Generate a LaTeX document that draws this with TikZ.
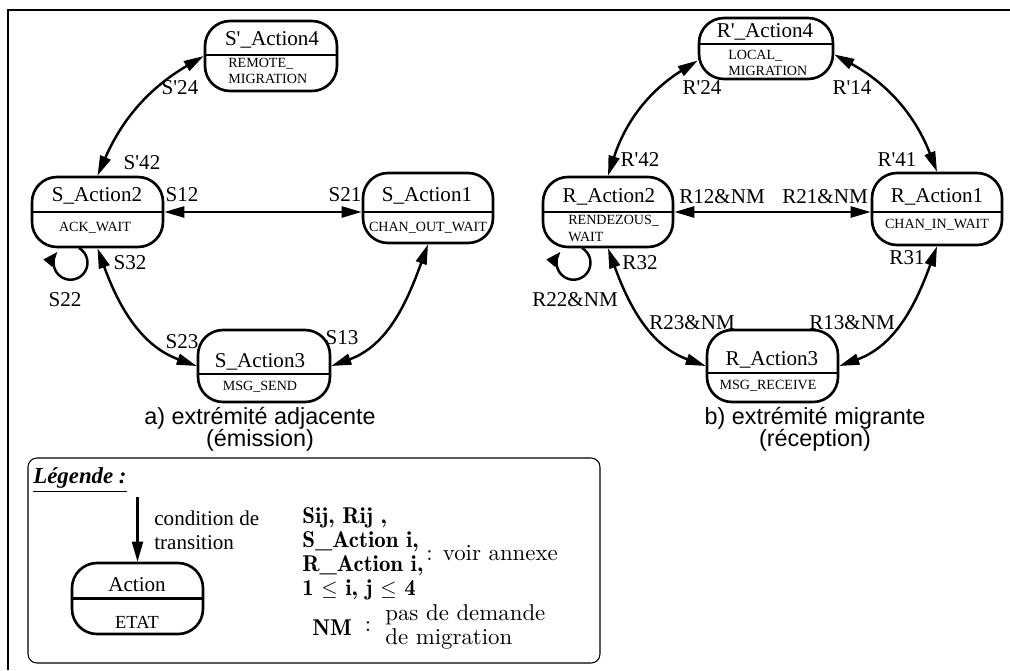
\documentclass[tikz,border=0pt]{standalone}
\usepackage{fontspec}
\setmainfont{Liberation Serif}
\setsansfont{Liberation Sans}
\newfontfamily\legfont{lmroman10-regular}[Extension=.otf, BoldFont=lmromandemi10-regular]
\usetikzlibrary{arrows.meta}

\begin{document}
\begin{tikzpicture}[x=0.02cm, y=0.02cm, >={Triangle[length=4mm,width=2.2mm]},
  etat/.style={draw, line width=1.5pt, rounded corners=0.5cm, inner sep=0pt,
               minimum width=2.62cm, minimum height=1.4cm},
  trait/.style={line width=1.5pt},
  fleche/.style={<->, line width=1.4pt},
  nom/.style={inner sep=0pt, font=\fontsize{12}{14}\selectfont},
  desc/.style={inner sep=0pt, font=\fontsize{8}{9.4}\selectfont, align=left},
  lbl/.style={inner sep=0pt, font=\fontsize{12}{13.6}\selectfont},
  titre/.style={inner sep=0pt, align=center, font=\sffamily\fontsize{13.3}{12.6}\selectfont},
  legt/.style={inner sep=0pt, font=\legfont\fontsize{13}{13.6}\selectfont},
  legb/.style={legt, font=\legfont\bfseries\fontsize{13}{13.6}\selectfont}]

  \useasboundingbox (0,0) rectangle (1010,-670);
  \draw[line width=1.7pt] (8,-670) -- (8,-10) -- (1010,-10);

  % a) extremite adjacente
  \node[etat, minimum width=2.64cm] (s4) at (271,-56) {};
  \node[etat] (s2) at (97.5,-212) {};
  \node[etat, minimum width=2.6cm] (s1) at (428,-208) {};
  \node[etat, minimum width=2.64cm, minimum height=1.44cm] (s3) at (264,-366) {};
  \draw[trait] (s4.west |- 0,-55) -- (s4.east |- 0,-55);
  \draw[trait] (s2.west |- 0,-212) -- (s2.east |- 0,-212);
  \draw[trait] (s1.west |- 0,-212) -- (s1.east |- 0,-212);
  \draw[trait] (s3.west |- 0,-374) -- (s3.east |- 0,-374);

  \node[nom] (s4t) at (272,-40) {S\textquotesingle\_Action4};
  \node[desc, anchor=west] (s4d) at (228,-71) {REMOTE\_\\MIGRATION};
  \node[nom] (s2t) at (97,-196) {S\_Action2};
  \node[desc] (s2d) at (95,-228) {ACK\_WAIT};
  \node[nom] (s1t) at (427,-196) {S\_Action1};
  \node[desc] (s1d) at (428,-228) {CHAN\_OUT\_WAIT};
  \node[nom] (s3t) at (260,-362) {S\_Action3};
  \node[desc] (s3d) at (260,-387) {MSG\_SEND};

  \draw[fleche] (s2.north) to[bend left=18] (s4.west);
  \draw[fleche] (s2.east) -- (s2.east -| s1.west);
  \draw[fleche] (s2.south) to[out=-70,in=160] (s3.west);
  \draw[fleche] (s1.south) to[out=-110,in=20] (s3.east);
  \coordinate (b2) at (79,-248);
  \draw[-{Triangle[length=3mm,width=2.2mm]}, line width=1.4pt] (b2) arc[start angle=60, end angle=-220, radius=0.34cm];

  \node[lbl] (l24) at (180,-88) {S\textquotesingle 24};
  \node[lbl] (l42) at (142,-163) {S\textquotesingle 42};
  \node[lbl] (l12) at (182,-195) {S12};
  \node[lbl] (l21) at (345,-195) {S21};
  \node[lbl] (l32) at (130,-263) {S32};
  \node[lbl] (l22) at (65,-300) {S22};
  \node[lbl] (l23) at (182,-342) {S23};
  \node[lbl] (l13) at (342,-338) {S13};
  \node[titre] (ta) at (260,-429) {a) extrémité adjacente\\(émission)};

  % b) extremite migrante
  \node[etat, minimum width=2.68cm, minimum height=1.22cm] (r4) at (766,-48.5) {};
  \node[etat, minimum width=2.6cm] (r2) at (608,-212) {};
  \node[etat, minimum width=2.6cm, minimum height=1.44cm] (r1) at (937,-209) {};
  \node[etat, minimum height=1.44cm] (r3) at (772.5,-366) {};
  \draw[trait] (r4.west |- 0,-44) -- (r4.east |- 0,-44);
  \draw[trait] (r2.west |- 0,-212) -- (r2.east |- 0,-212);
  \draw[trait] (r1.west |- 0,-212) -- (r1.east |- 0,-212);
  \draw[trait] (r3.west |- 0,-373) -- (r3.east |- 0,-373);

  \node[nom] (r4t) at (765,-32) {R\textquotesingle\_Action4};
  \node[desc, anchor=west] (r4d) at (728,-63) {LOCAL\_\\MIGRATION};
  \node[nom] (r2t) at (609,-197) {R\_Action2};
  \node[desc, anchor=west] (r2d) at (568,-228.5) {RENDEZOUS\_\\WAIT};
  \node[nom] (r1t) at (937,-197) {R\_Action1};
  \node[desc] (r1d) at (937,-225) {CHAN\_IN\_WAIT};
  \node[nom] (r3t) at (772,-360) {R\_Action3};
  \node[desc] (r3d) at (768,-386) {MSG\_RECEIVE};

  \draw[fleche] (r2.north) to[bend left=20] (r4.190);
  \draw[fleche] (r4.-5) to[bend left=20] (r1.north);
  \draw[fleche] (r2.east) -- (r2.east -| r1.west);
  \draw[fleche] (r2.south) to[out=-70,in=160] (r3.west);
  \draw[fleche] (r1.south) to[out=-110,in=20] (r3.east);
  \coordinate (b5) at (582,-248);
  \draw[-{Triangle[length=3mm,width=2.2mm]}, line width=1.4pt] (b5) arc[start angle=60, end angle=-220, radius=0.34cm];

  \node[lbl] (m24) at (702,-88) {R\textquotesingle 24};
  \node[lbl] (m42) at (640,-160) {R\textquotesingle 42};
  \node[lbl] (m14) at (852,-88) {R\textquotesingle 14};
  \node[lbl] (m41) at (897,-160) {R\textquotesingle 41};
  \node[lbl] (m12) at (722,-197) {R12\&NM};
  \node[lbl] (m21) at (825,-197) {R21\&NM};
  \node[lbl] (m32) at (640,-263) {R32};
  \node[lbl] (m31) at (907,-258) {R31};
  \node[lbl] (m22) at (575,-300) {R22\&NM};
  \node[lbl] (m23) at (692,-323) {R23\&NM};
  \node[lbl] (m13) at (852,-323) {R13\&NM};
  \node[titre] (tb) at (815,-429) {b) extrémité migrante\\(réception)};

  % legende
  \draw[line width=0.6pt, rounded corners=0.18cm] (28,-458) rectangle (600,-663);
  \node[anchor=west, inner sep=0pt, font=\fontsize{13}{15}\selectfont\bfseries\itshape] (leg) at (33,-480) {\underline{Légende :}};
  \node[etat, minimum height=1.42cm] (act) at (137.5,-598.5) {};
  \draw[trait] (act.west) -- (act.east);
  \node[nom] (actt) at (137,-585) {Action};
  \node[inner sep=0pt, font=\fontsize{10.5}{12}\selectfont] (acte) at (137,-622) {ETAT};
  \coordinate (c0) at (137.5,-497);
  \draw[->, line width=1.2pt] (c0) -- (act.north);
  \node[lbl, anchor=west, align=left] (cond) at (154,-530) {condition de\\transition};

  \node[legb, anchor=west, align=left] (defs) at (302,-554) {Sij, Rij ,\\S\_Action i,\\R\_Action i,\\1 $\leq$ i, j $\leq$ 4};
  \node[legt, anchor=west] (voir) at (426,-553) {: voir annexe};
  \node[legb, anchor=west] (nm) at (312,-628) {NM};
  \node[legt] (dp) at (368,-627) {:};
  \node[legt, anchor=west, align=left] (pas) at (385,-627) {pas de demande\\de migration};
\end{tikzpicture}
\end{document}
